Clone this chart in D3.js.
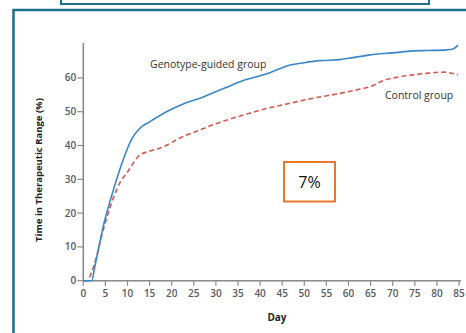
<!DOCTYPE html>
<html>
<head>
<meta charset="utf-8">
<script src="https://cdn.jsdelivr.net/npm/d3@7"></script>
<style>
  body { margin: 0; background: #fff; }
  svg { display: block; font-family: "Open Sans", sans-serif; }
</style>
</head>
<body>
<div id="chart"></div>
<script>
// values
var guidedDays = [0, 1, 1.9, 2.6, 4.5, 6.8, 9, 11, 12.8, 15, 19.6, 23, 26.4, 28.3, 32, 36.2, 41.5, 44, 46.8, 50, 53.5, 58, 61, 64.9, 70, 74.7, 78, 82.2, 83.5, 84.8];
var guidedValues = [0, 0, 0, 4.1, 16, 26.8, 35.7, 42, 45.1, 47, 50.5, 52.5, 54, 55, 57, 59.2, 61.2, 62.5, 63.8, 64.5, 65.1, 65.4, 66, 66.8, 67.4, 68, 68.1, 68.3, 68.5, 69.7];
var controlDays = [0, 0.8, 2.3, 4.5, 6.8, 8.5, 9.8, 12.8, 15, 18.1, 22, 26.4, 28.3, 32, 36.2, 41, 46.8, 52, 58, 62, 64.9, 67.9, 71, 74.7, 78, 81.4, 84.8];
var controlValues = [0, 0, 4.1, 15, 24.5, 29.5, 31.8, 37.2, 38.3, 39.6, 42.3, 44.6, 45.6, 47.3, 49, 50.8, 52.5, 54, 55.4, 56.5, 57.4, 59.2, 60.2, 60.9, 61.4, 61.7, 60.9];
var xTicks = d3.range(0, 86, 5);
var yTicks = [0, 10, 20, 30, 40, 50, 60];

var W = 466, H = 333;
var svg = d3.select("#chart").append("svg")
    .attr("width", W)
    .attr("height", H);

var teal = "#1c6f8b";

//top frame, cut by the window
svg.append("rect")
    .attr("x", 61).attr("y", -20)
    .attr("width", 368).attr("height", 24)
    .attr("fill", "none")
    .attr("stroke", teal)
    .attr("stroke-width", 2);

//main frame
svg.append("rect")
    .attr("x", 13.5).attr("y", 10)
    .attr("width", 480).attr("height", 360)
    .attr("fill", "none")
    .attr("stroke", teal)
    .attr("stroke-width", 2.5);

var x = d3.scaleLinear().domain([0, 85]).range([83.3, 459]);
var y = d3.scaleLinear().domain([0, 60]).range([280.7, 77.9]);

var axisColor = "#8a8a8a";
var tickColor = "#555b66";

//y axis
var gy = svg.append("g").attr("transform", "translate(83.3,0)");
gy.append("line")
    .attr("y1", y(0)).attr("y2", 43)
    .attr("stroke", axisColor).attr("stroke-width", 1.6);
gy.selectAll(".yt").data(yTicks).enter().append("line")
    .attr("x1", -6).attr("x2", 0)
    .attr("y1", function (d) { return y(d); })
    .attr("y2", function (d) { return y(d); })
    .attr("stroke", axisColor).attr("stroke-width", 1.2);
gy.selectAll(".yl").data(yTicks).enter().append("text")
    .attr("x", -7)
    .attr("y", function (d) { return y(d); })
    .attr("dy", "0.35em")
    .attr("text-anchor", "end")
    .style("font-size", "10px")
    .style("font-weight", "600")
    .style("fill", tickColor)
    .text(function (d) { return d; });

//x axis
var gx = svg.append("g").attr("transform", "translate(0," + y(0) + ")");
gx.append("line")
    .attr("x1", x(0)).attr("x2", x(85) + 2)
    .attr("stroke", axisColor).attr("stroke-width", 1.6);
gx.selectAll(".xt").data(xTicks).enter().append("line")
    .attr("x1", function (d) { return x(d); })
    .attr("x2", function (d) { return x(d); })
    .attr("y1", 0).attr("y2", 5)
    .attr("stroke", axisColor).attr("stroke-width", 1.2);
gx.selectAll(".xl").data(xTicks).enter().append("text")
    .attr("x", function (d) { return x(d); })
    .attr("y", 12.5)
    .attr("dy", "0.35em")
    .attr("text-anchor", "middle")
    .style("font-size", "10px")
    .style("font-weight", "600")
    .style("fill", tickColor)
    .text(function (d) { return d; });

//axis titles
svg.append("text")
    .attr("x", 277).attr("y", 317)
    .attr("dy", "0.35em")
    .attr("text-anchor", "middle")
    .style("font-size", "10px")
    .style("font-weight", "bold")
    .style("fill", "#222")
    .text("Day");

svg.append("text")
    .attr("transform", "translate(39,170) rotate(-90)")
    .attr("dy", "0.35em")
    .attr("text-anchor", "middle")
    .style("font-size", "9.5px")
    .style("font-weight", "bold")
    .style("fill", "#222")
    .text("Time in Therapeutic Range (%)");

//curves
var line = d3.line()
    .x(function (d) { return x(d[0]); })
    .y(function (d) { return y(d[1]); })
    .curve(d3.curveMonotoneX);

svg.append("path")
    .datum(d3.zip(controlDays, controlValues))
    .attr("d", line)
    .attr("fill", "none")
    .attr("stroke", "#d2594e")
    .attr("stroke-width", 1.6)
    .attr("stroke-dasharray", "5,3");

svg.append("path")
    .datum(d3.zip(guidedDays, guidedValues))
    .attr("d", line)
    .attr("fill", "none")
    .attr("stroke", "#3a87c8")
    .attr("stroke-width", 1.6);

//series labels
svg.append("text")
    .attr("x", 150).attr("y", 64)
    .attr("dy", "0.35em")
    .style("font-size", "10.5px")
    .style("fill", "#333")
    .text("Genotype-guided group");

svg.append("text")
    .attr("x", 385).attr("y", 95)
    .attr("dy", "0.35em")
    .style("font-size", "10.5px")
    .style("fill", "#333")
    .text("Control group");

//annotation box
svg.append("rect")
    .attr("x", 284).attr("y", 162)
    .attr("width", 51).attr("height", 39.5)
    .attr("fill", "#fff")
    .attr("stroke", "#e8782a")
    .attr("stroke-width", 2);

svg.append("text")
    .attr("x", 309.5).attr("y", 182)
    .attr("dy", "0.35em")
    .attr("text-anchor", "middle")
    .style("font-size", "16px")
    .style("fill", "#111")
    .text("7%");
</script>
</body>
</html>
